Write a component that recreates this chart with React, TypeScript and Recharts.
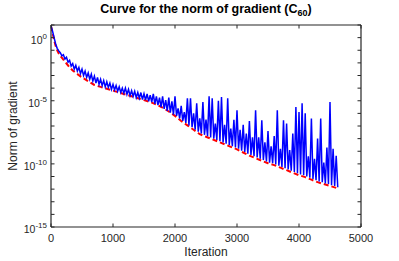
import { LineChart, Line, XAxis, YAxis } from "recharts";

// iteration ticks and log-axis decades
const xTicks = [0, 1000, 2000, 3000, 4000, 5000];
const yTickExponents = [-15, -14, -13, -12, -11, -10, -9, -8, -7, -6, -5, -4, -3, -2, -1, 0, 1];
const yLabelExponents = [-15, -10, -5, 0];

// norm of gradient (log10), sampled every 25 iterations
const blueStep = 25;
const blueLog = [
  0.95, 0.5, 0.0, -0.5, -0.85, -1.05, -1.2, -1.45, -1.35, -1.7, -1.55, -1.95, -1.8, -2.25, -2.05, -2.5,
  -2.2, -2.65, -2.35, -2.85, -2.5, -3.0, -2.65, -3.15, -2.8, -3.3, -2.9, -3.45, -3.05, -3.6, -3.15, -3.7,
  -3.3, -3.8, -3.4, -3.9, -3.5, -3.95, -3.6, -4.1, -3.7, -4.15, -3.8, -4.25, -3.9, -4.35, -4.0, -4.4,
  -4.0, -4.5, -4.1, -4.6, -4.2, -4.65, -4.25, -4.75, -4.35, -4.8, -4.35, -4.9, -4.45, -4.95, -4.45, -5.05,
  -4.55, -5.1, -4.45, -5.25, -4.65, -5.35, -4.75, -5.5, -4.65, -5.65, -4.95, -5.8, -4.75, -5.95, -5.05, -6.1,
  -4.65, -6.2, -5.6, -6.4, -5.4, -6.6, -5.9, -6.75, -4.8, -6.95, -4.8, -7.1, -6.0, -7.3, -5.2, -7.45,
  -6.4, -7.6, -5.1, -7.7, -6.5, -7.8, -4.65, -7.9, -4.8, -8.0, -6.8, -8.1, -5.0, -8.2, -4.7, -8.3,
  -6.9, -8.4, -4.8, -8.5, -7.2, -8.6, -6.5, -8.7, -5.75, -8.8, -7.3, -8.95, -6.9, -9.05, -7.6, -9.2,
  -6.6, -9.3, -7.9, -9.4, -5.75, -9.5, -7.9, -9.6, -6.55, -9.7, -8.3, -9.8, -7.4, -9.9, -8.6, -9.95,
  -7.8, -10.05, -5.75, -10.15, -8.8, -10.25, -6.55, -10.35, -6.8, -10.45, -8.9, -10.55, -7.6, -10.65, -5.5, -10.75,
  -5.9, -10.85, -5.2, -10.9, -6.0, -11.0, -9.4, -11.1, -6.4, -11.2, -9.6, -11.3, -8.0, -11.4, -6.4, -11.45,
  -9.9, -11.55, -8.7, -11.6, -5.1, -11.7, -8.8, -11.75, -9.35, -11.85,
];

// lower envelope (log10)
const redIter = [0, 25, 50, 75, 100, 125, 150, 200, 250, 300, 350, 400, 500, 600, 700, 800, 900, 1000, 1100, 1200, 1300, 1400, 1500, 1600, 1700, 1800, 1900, 2000, 2100, 2200, 2300, 2400, 2500, 2600, 2700, 2800, 2900, 3000, 3100, 3200, 3300, 3400, 3500, 3600, 3700, 3800, 3900, 4000, 4100, 4200, 4300, 4400, 4500, 4600, 4640];
const redLog = [0.9, 0.4, -0.2, -0.65, -1.0, -1.25, -1.45, -1.75, -2.05, -2.35, -2.6, -2.8, -3.15, -3.45, -3.75, -3.9, -4.05, -4.2, -4.35, -4.5, -4.65, -4.8, -4.95, -5.1, -5.3, -5.55, -5.85, -6.2, -6.6, -6.95, -7.3, -7.65, -7.85, -8.05, -8.25, -8.45, -8.65, -8.85, -9.1, -9.35, -9.55, -9.75, -9.95, -10.1, -10.3, -10.5, -10.7, -10.9, -11.05, -11.25, -11.45, -11.6, -11.75, -11.9, -11.98];

const blueData = blueLog.map((e, i) => ({ x: i * blueStep, y: Math.pow(10, e) }));
const redData = redIter.map((x, i) => ({ x, y: Math.pow(10, redLog[i]) }));
const yTicks = yTickExponents.map((e) => Math.pow(10, e));

const ink = "#262626";
const font = "'Liberation Sans', Arial, sans-serif";

const expOf = (v: number) => Math.round(Math.log10(v));

function BottomTick({ x, y, payload }: any) {
  return (
    <g>
      <line x1={x} y1={y} x2={x} y2={y - 3.5} stroke={ink} />
      <text x={x} y={y + 15} textAnchor="middle" fontSize={11} fill={ink}>
        {payload.value}
      </text>
    </g>
  );
}

function TopTick({ x, y }: any) {
  return <line x1={x} y1={y} x2={x} y2={y + 3.5} stroke={ink} />;
}

function LeftTick({ x, y, payload }: any) {
  const e = expOf(payload.value);
  return (
    <g>
      <line x1={x} y1={y} x2={x + 3.5} y2={y} stroke={ink} />
      {yLabelExponents.includes(e) && (
        <text x={x - 4} y={y + 6} textAnchor="end" fontSize={10.5} fill={ink}>
          10
          <tspan fontSize={8} dy={-5}>
            {e}
          </tspan>
        </text>
      )}
    </g>
  );
}

function RightTick({ x, y }: any) {
  return <line x1={x} y1={y} x2={x - 3.5} y2={y} stroke={ink} />;
}

export default function App() {
  return (
    <div style={{ position: "absolute", left: 0, top: 0, width: 399, height: 261, background: "#fff" }}>
      <LineChart width={399} height={261} margin={{ top: 24, right: 37, bottom: 0, left: 0 }} style={{ fontFamily: font }}>
        <XAxis
          xAxisId="b"
          type="number"
          dataKey="x"
          domain={[0, 5000]}
          allowDataOverflow
          ticks={xTicks}
          interval={0}
          height={34}
          tickSize={0}
          tickMargin={0}
          tickLine={false}
          tick={<BottomTick />}
          axisLine={{ stroke: ink, strokeWidth: 1.2 }}
          label={{
            content: () => (
              <text x={206} y={256} textAnchor="middle" fontSize={12} fill={ink}>
                Iteration
              </text>
            ),
          }}
        />
        <XAxis
          xAxisId="t"
          orientation="top"
          type="number"
          dataKey="x"
          domain={[0, 5000]}
          allowDataOverflow
          ticks={xTicks}
          interval={0}
          height={1}
          tickSize={0}
          tickMargin={0}
          tickLine={false}
          tick={<TopTick />}
          axisLine={{ stroke: ink, strokeWidth: 1.2 }}
          label={{
            content: () => (
              <text x={206} y={13} textAnchor="middle" fontSize={12.5} fontWeight="bold" fill="#000">
                Curve for the norm of gradient (C
                <tspan fontSize={9} dy={3}>
                  60
                </tspan>
                <tspan dy={-3}>)</tspan>
              </text>
            ),
          }}
        />
        <YAxis
          yAxisId="l"
          scale="log"
          domain={[1e-15, 10]}
          allowDataOverflow
          ticks={yTicks}
          interval={0}
          width={51}
          tickSize={0}
          tickMargin={0}
          tickLine={false}
          tick={<LeftTick />}
          axisLine={{ stroke: ink, strokeWidth: 1.2 }}
          label={{
            content: () => (
              <text x={17} y={126} textAnchor="middle" fontSize={12} fill={ink} transform="rotate(-90, 17, 126)">
                Norm of gradient
              </text>
            ),
          }}
        />
        <YAxis
          yAxisId="r"
          orientation="right"
          scale="log"
          domain={[1e-15, 10]}
          allowDataOverflow
          ticks={yTicks}
          interval={0}
          width={1}
          tickSize={0}
          tickMargin={0}
          tickLine={false}
          tick={<RightTick />}
          axisLine={{ stroke: ink, strokeWidth: 1.2 }}
        />
        <Line
          xAxisId="b"
          yAxisId="l"
          data={redData}
          dataKey="y"
          type="linear"
          stroke="#ff0000"
          strokeWidth={2}
          strokeDasharray="5 3"
          dot={false}
          isAnimationActive={false}
        />
        <Line
          xAxisId="b"
          yAxisId="l"
          data={blueData}
          dataKey="y"
          type="linear"
          stroke="#0000ff"
          strokeWidth={1.5}
          dot={false}
          isAnimationActive={false}
        />
        <Line
          xAxisId="t"
          yAxisId="r"
          data={redData}
          dataKey="y"
          stroke="none"
          dot={false}
          legendType="none"
          isAnimationActive={false}
        />
      </LineChart>
    </div>
  );
}
